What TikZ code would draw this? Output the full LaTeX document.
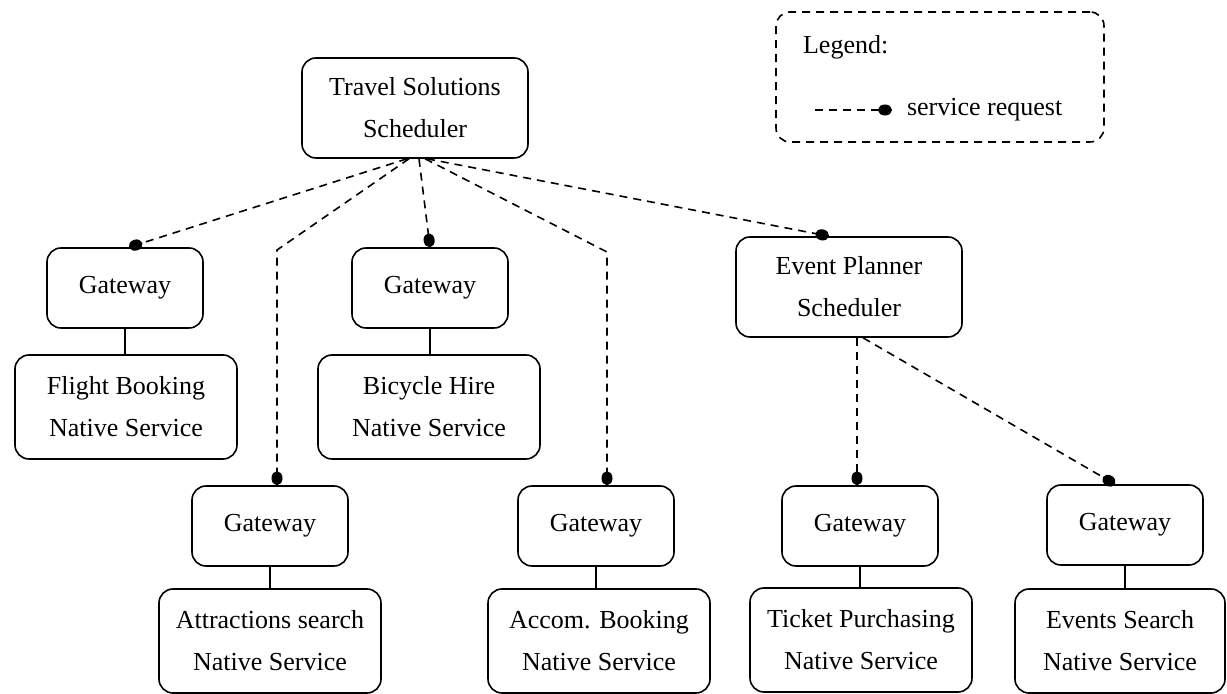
\documentclass[tikz,border=0pt]{standalone}
\usepackage{fontspec}
\setmainfont{Liberation Serif}
\usetikzlibrary{arrows.meta, positioning}

\begin{document}
\begin{tikzpicture}[x=0.5pt, y=-0.5pt,
    box/.style={shape=rectangle, rounded corners=7pt, draw=black, line width=0.8pt, align=center, font=\fontsize{13}{21}\selectfont},
    gw/.style={box, minimum width=78pt, minimum height=40pt},
    svc/.style={box, minimum width=111pt, minimum height=52pt},
    sched/.style={box, minimum width=113pt, minimum height=50pt},
    req/.style={line width=0.8pt, dash pattern=on 4pt off 3pt, -{Circle[length=7pt, width=5.5pt]}},
    link/.style={line width=0.8pt}]
    \useasboundingbox (0,0) rectangle (1227,694);
    % schedulers
    \node[sched] (TS) at (415,108) {Travel Solutions\\Scheduler};
    \node[sched] (EP) at (849,287) {Event Planner\\Scheduler};
    % gateways
    \node[gw] (GF) at (125,288) {Gateway};
    \node[gw] (GB) at (430,288) {Gateway};
    \node[gw] (GA) at (270,526) {Gateway};
    \node[gw] (GC) at (596,526) {Gateway};
    \node[gw] (GT) at (860,526) {Gateway};
    \node[gw] (GE) at (1125,525) {Gateway};
    % native services
    \node[svc] (FB) at (126,407) {Flight Booking\\Native Service};
    \node[svc] (BH) at (429,407) {Bicycle Hire\\Native Service};
    \node[svc] (AS) at (270,641) {Attractions search\\Native Service};
    \node[svc] (AB) at (599,641) {Accom. Booking\\Native Service};
    \node[svc] (TP) at (861,640) {Ticket Purchasing\\Native Service};
    \node[svc, minimum width=105pt] (ES) at (1120,641) {Events Search\\Native Service};
    % bends
    \coordinate (bA) at (277,250);
    \coordinate (bC) at (607,252);
    % gateway to service
    \draw[link] (GF.south) -- (GF.south |- FB.north);
    \draw[link] (GB.south) -- (GB.south |- BH.north);
    \draw[link] (GA.south) -- (GA.south |- AS.north);
    \draw[link] (GC.south) -- (GC.south |- AB.north);
    \draw[link] (GT.south) -- (GT.south |- TP.north);
    \draw[link] (GE.south) -- (GE.south |- ES.north);
    % service requests
    \draw[req] ([xshift=-4pt]TS.south) -- ([xshift=2pt]GF.north);
    \draw[req] ([xshift=-3pt]TS.south) -- (bA) -- (bA |- GA.north);
    \draw[req] ([xshift=2pt]TS.south) -- (GB.north);
    \draw[req] ([xshift=5pt]TS.south) -- (bC) -- (bC |- GC.north);
    \draw[req] ([xshift=6pt]TS.south) -- ([xshift=-10pt]EP.north);
    \draw[req] ([xshift=4pt]EP.south) -- ([xshift=4pt]EP.south |- GT.north);
    \draw[req] ([xshift=7pt]EP.south) -- ([xshift=-5pt]GE.north);
    % legend
    \node[draw=black, line width=0.8pt, dash pattern=on 4pt off 3pt, rounded corners=7pt, minimum width=164pt, minimum height=65pt] (legend) at (940,77) {};
    \node[anchor=west, font=\fontsize{13}{21}\selectfont] (legtitle) at (796,47) {Legend:};
    \coordinate (l1) at (815,110);
    \coordinate (l2) at (892,110);
    \draw[req] (l1) -- (l2);
    \node[anchor=west, font=\fontsize{13}{21}\selectfont] (legtext) at (900,110) {service request};
\end{tikzpicture}
\end{document}
